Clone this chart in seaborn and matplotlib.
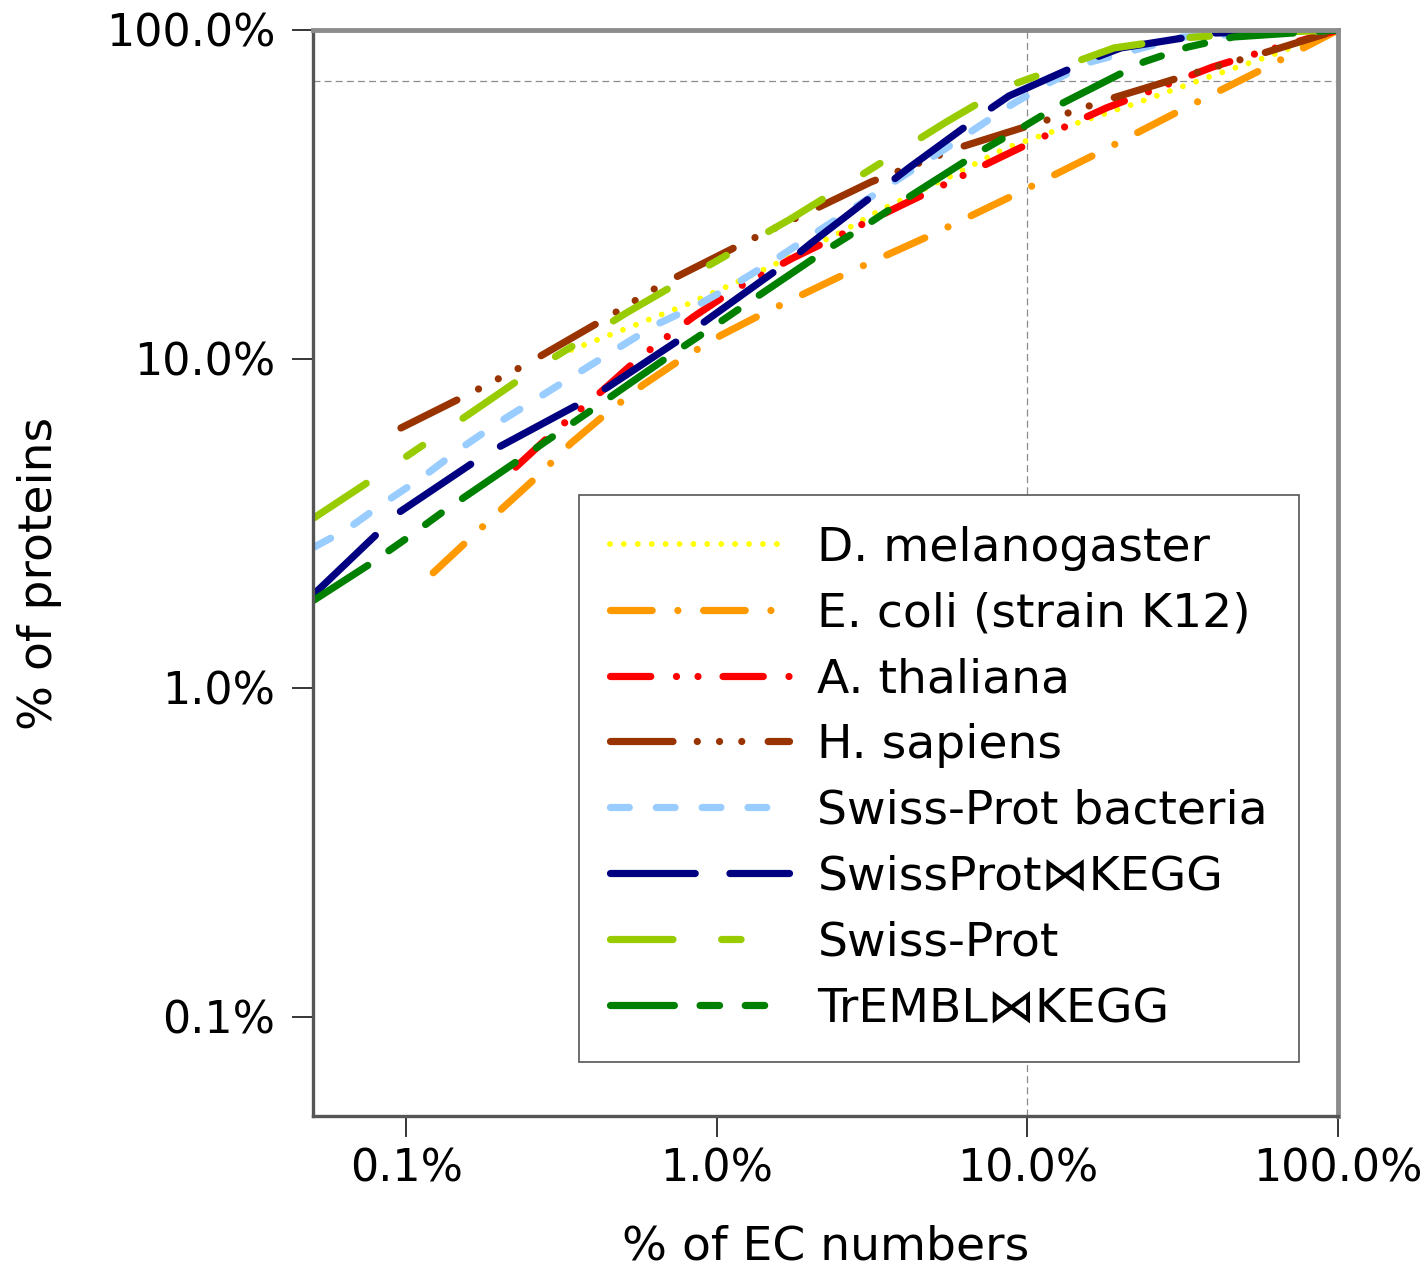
import numpy as np
import pandas as pd
import matplotlib
matplotlib.use("Agg")
import matplotlib.pyplot as plt
import seaborn as sns
from matplotlib.ticker import FixedLocator, FuncFormatter, NullLocator

# cumulative share of proteins (y, %) covered by the top x % of EC numbers
NAMES = ["D. melanogaster", "E. coli (strain K12)", "A. thaliana", "H. sapiens",
         "Swiss-Prot bacteria", "SwissProt\u22c8KEGG", "Swiss-Prot", "TrEMBL\u22c8KEGG"]

dmel_x = [0.339, 0.525, 0.807, 1.22, 1.66, 2.51, 3.37, 5.59, 8.53, 14.5, 22.5, 38.4, 59.0, 100]
dmel_y = [10.65, 12.5, 14.7, 17.5, 20.1, 24.3, 28.4, 35.7, 43.8, 52.2, 60.0, 72.0, 82.8, 100]

ecoli_x = [0.122, 0.161, 0.206, 0.267, 0.339, 0.446, 0.578, 0.777, 1.03, 1.42, 2.64, 4.89, 9.05, 16.9, 30.8, 57.3, 100]
ecoli_y = [2.24, 2.86, 3.55, 4.44, 5.55, 6.90, 8.34, 10.07, 11.8, 13.8, 18.3, 23.8, 31.5, 42.3, 56.7, 76.1, 100]

athal_x = [0.225, 0.296, 0.430, 0.561, 0.837, 1.13, 1.76, 2.38, 3.83, 5.19, 8.22, 11.2, 17.9, 24.4, 39.5, 55.2, 100]
athal_y = [4.69, 5.96, 8.05, 10.07, 13.4, 16.2, 20.3, 23.3, 29.0, 33.3, 41.1, 47.3, 57.9, 64.8, 77.2, 85.1, 100]

hsap_x = [0.096, 0.152, 0.241, 0.439, 0.675, 1.24, 1.98, 3.13, 3.72, 5.97, 11.6, 18.8, 36.2, 59.0, 100]
hsap_y = [6.17, 7.66, 9.59, 13.3, 17.0, 22.7, 28.0, 34.5, 36.8, 43.8, 53.3, 62.1, 75.0, 85.7, 100]

spbac_x = [0.0504, 0.0638, 0.0846, 0.113, 0.150, 0.197, 0.265, 0.473, 0.636, 0.869, 1.17, 1.57, 2.08,
           5.67, 8.85, 11.9, 16.0, 31.7, 100]
spbac_y = [2.68, 3.02, 3.65, 4.38, 5.36, 6.39, 7.61, 10.7, 12.7, 14.6, 17.1, 20.3, 24.2,
           44.7, 59.2, 69.5, 80.0, 95.2, 100]

spkegg_x = [0.0504, 0.0798, 0.0939, 0.165, 0.2015, 0.370, 0.446, 0.795, 0.956, 1.69, 2.01, 3.45, 4.15,
            7.24, 8.71, 16.4, 20.0, 39.9, 100]
spkegg_y = [1.93, 2.92, 3.40, 4.86, 5.44, 7.40, 8.22, 11.8, 13.4, 19.7, 22.5, 33.3, 38.1,
            55.9, 63.0, 82.2, 88.2, 97.9, 100]

sp_x = [0.0504, 0.0798, 0.161, 0.248, 0.517, 0.813, 1.71, 2.66, 5.47, 8.53, 19.0, 31.7, 53.6, 100]
sp_y = [3.29, 4.38, 6.85, 9.07, 13.9, 17.8, 26.5, 34.3, 52.5, 67.1, 88.2, 94.6, 97.9, 100]

trkegg_x = [0.0504, 0.0752, 0.0996, 0.131, 0.230, 0.308, 0.408, 0.722, 0.956, 1.27, 2.24, 3.02, 4.00,
            7.19, 9.67, 13.0, 23.7, 32.9, 45.9, 100]
trkegg_y = [1.85, 2.36, 2.84, 3.43, 4.93, 5.96, 7.15, 10.4, 12.4, 14.9, 21.4, 25.5, 30.4,
            43.2, 50.7, 60.0, 80.0, 88.8, 95.2, 100]

X_TICKS = [0.1, 1, 10, 100]
Y_TICKS = [0.1, 1, 10, 100]

COLORS = ["#ffff00", "#ff9900", "#ff0000", "#993300", "#99ccff", "#000080", "#99cc00", "#008000"]
DASHES = [
    (0.01, 10.0),
    (30, 18.5, 0.01, 18.5),
    (29, 18.5, 0.01, 15.5, 0.01, 18),
    (45, 17.5, 0.01, 16, 0.01, 16, 0.01, 19),
    (13.5, 19.5),
    (61, 25),
    (45, 35, 14, 35),
    (46, 18.5, 14, 18.5, 14, 18.5),
]

plt.rcParams["font.family"] = ["DejaVu Sans"]
plt.rcParams["lines.scale_dashes"] = False

xs = [dmel_x, ecoli_x, athal_x, hsap_x, spbac_x, spkegg_x, sp_x, trkegg_x]
ys = [dmel_y, ecoli_y, athal_y, hsap_y, spbac_y, spkegg_y, sp_y, trkegg_y]
frames = []
for name, x, y in zip(NAMES, xs, ys):
    frames.append(pd.DataFrame({"ec": x, "prot": y, "set": name}))
df = pd.concat(frames, ignore_index=True)

fig = plt.figure(figsize=(14.24, 12.71), dpi=100)
ax = fig.add_axes([0.2198, 0.1220, 0.7198, 0.8544])

sns.lineplot(data=df, x="ec", y="prot", hue="set", style="set",
             hue_order=NAMES, style_order=NAMES,
             palette=dict(zip(NAMES, COLORS)), dashes=dict(zip(NAMES, DASHES)),
             linewidth=5.2, estimator=None, sort=False, legend=False, ax=ax,
             dash_capstyle="round", solid_capstyle="round")
series_lines = list(ax.lines[:len(NAMES)])
series_lines[0].set_linewidth(4.2)

ax.set_xscale("log")
ax.set_yscale("log")
ax.set_xlim(0.05, 100)
ax.set_ylim(0.05, 100)

ax.axvline(10, color="#8c8c8c", lw=0.9, dashes=(5, 3), zorder=0)
ax.axhline(70, color="#8c8c8c", lw=0.9, dashes=(5, 3), zorder=0)

pct = FuncFormatter(lambda v, p: f"{v:.1f}%")
ax.xaxis.set_major_locator(FixedLocator(X_TICKS))
ax.yaxis.set_major_locator(FixedLocator(Y_TICKS))
ax.xaxis.set_minor_locator(NullLocator())
ax.yaxis.set_minor_locator(NullLocator())
ax.xaxis.set_major_formatter(pct)
ax.yaxis.set_major_formatter(pct)
ax.tick_params(axis="both", which="major", direction="out", length=15, width=1.1,
               color="black", labelsize=32)
ax.tick_params(axis="x", pad=8)
ax.tick_params(axis="y", pad=12)

ax.set_xlabel("% of EC numbers", fontsize=34, labelpad=24)
ax.set_ylabel("% of proteins", fontsize=34, labelpad=32)

for side in ["top", "right"]:
    ax.spines[side].set_color("#8c8c8c")
    ax.spines[side].set_linewidth(3.5)
for side in ["left", "bottom"]:
    ax.spines[side].set_color("#555555")
    ax.spines[side].set_linewidth(2.4)

leg = ax.legend(series_lines, NAMES, loc="upper left", bbox_to_anchor=(0.2595, 0.5718),
                fontsize=34, handlelength=3.8, handletextpad=0.6, labelspacing=0.44,
                borderpad=0.65, borderaxespad=0, frameon=True, fancybox=False,
                edgecolor="#555555", framealpha=1)
leg.get_frame().set_linewidth(1.2)

fig.savefig("out.png", dpi=100)
